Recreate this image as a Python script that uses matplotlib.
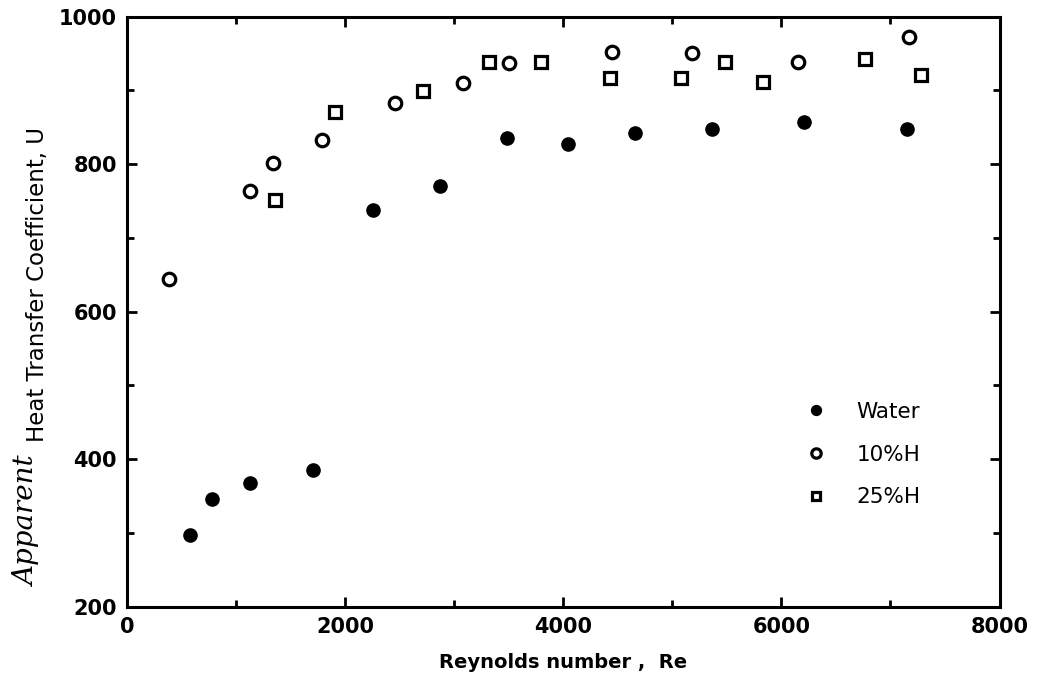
import matplotlib.pyplot as plt
from matplotlib.ticker import MultipleLocator

# Data
water_re = [580, 785, 1130, 1710, 2260, 2870, 3490, 4040, 4660, 5360, 6210, 7150]
water_u = [298, 346, 368, 386, 738, 770, 835, 827, 842, 848, 857, 848]

h10_re = [390, 1130, 1340, 1790, 2460, 3080, 3500, 4450, 5180, 6150, 7170]
h10_u = [644, 764, 802, 833, 883, 910, 937, 952, 950, 939, 972]

h25_re = [1360, 1910, 2720, 3320, 3800, 4430, 5080, 5480, 5830, 6770, 7280]
h25_u = [752, 870, 899, 938, 938, 916, 917, 938, 911, 942, 921]

plt.rcParams["font.family"] = "DejaVu Sans"

fig = plt.figure(figsize=(10.39, 6.88), dpi=100)
ax = fig.add_axes([0.122, 0.118, 0.840, 0.858])

ax.plot(water_re, water_u, "o", color="black", markersize=9.5, label="Water")
ax.plot(h10_re, h10_u, "o", mfc="white", mec="black", mew=2.3,
        markersize=9, label="10%H")
ax.plot(h25_re, h25_u, "s", mfc="white", mec="black", mew=2.3,
        markersize=8.5, label="25%H")

ax.set_xlim(0, 8000)
ax.set_ylim(200, 1000)
ax.xaxis.set_major_locator(MultipleLocator(2000))
ax.xaxis.set_minor_locator(MultipleLocator(1000))
ax.yaxis.set_major_locator(MultipleLocator(200))
ax.yaxis.set_minor_locator(MultipleLocator(100))
ax.tick_params(which="both", direction="in", top=True, right=True, width=2)
ax.tick_params(which="major", length=7, labelsize=15, pad=7)
ax.tick_params(which="minor", length=5)
for lab in ax.get_xticklabels() + ax.get_yticklabels():
    lab.set_fontweight("bold")
for sp in ax.spines.values():
    sp.set_linewidth(2.2)

ax.set_xlabel("Reynolds number ,  Re", fontsize=14, fontweight="bold", labelpad=12)

# y label: handwritten "Apparent" plus the printed part
fig.text(0.027, 0.242, "Apparent", rotation=90, fontsize=20, style="italic",
         ha="center", va="center", family="DejaVu Serif")
fig.text(0.036, 0.586, "Heat Transfer Coefficient, U", rotation=90,
         fontsize=16.5, ha="center", va="center")

ax.legend(loc="center left", bbox_to_anchor=(0.755, 0.258), frameon=False,
          fontsize=15.5, markerscale=0.75, handletextpad=1.4,
          labelspacing=1.05, handlelength=1.0)

fig.savefig("out.png", dpi=100)
